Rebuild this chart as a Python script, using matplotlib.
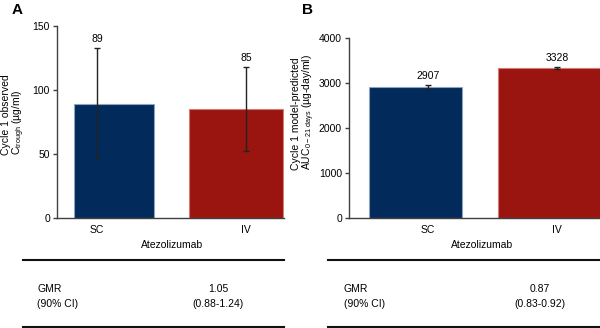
import matplotlib
matplotlib.use("Agg")
import matplotlib.pyplot as plt
from matplotlib.lines import Line2D

plt.rcParams["font.family"] = ["Liberation Sans", "DejaVu Sans"]
plt.rcParams["font.size"] = 7.5

# data
categories = ["SC", "IV"]
ctrough = [89, 85]
ctrough_low = [46, 52]
ctrough_high = [133, 118]
auc = [2907, 3328]
auc_low = [2865, 3305]
auc_high = [2952, 3352]
gmr_a = ("1.05", "(0.88-1.24)")
gmr_b = ("0.87", "(0.83-0.92)")

NAVY = "#022b5b"
RED = "#9a1510"
EDGES = ["#8ea3c2", "#d27c77"]
SPINE = "#404040"

W, H = 600, 328
fig = plt.figure(figsize=(W / 100, H / 100), dpi=100)


def px_axes(left, right, top, bottom):
    return fig.add_axes([left / W, 1 - bottom / H, (right - left) / W, (bottom - top) / H])


def style_axes(ax, ymax, yticks):
    ax.set_ylim(0, ymax)
    ax.set_yticks(yticks)
    ax.set_xticks(range(len(categories)))
    ax.set_xticklabels(categories)
    for side in ("top", "right"):
        ax.spines[side].set_visible(False)
    for side in ("left", "bottom"):
        ax.spines[side].set_color(SPINE)
        ax.spines[side].set_linewidth(1.0)
    ax.tick_params(axis="y", length=3, width=1, color=SPINE, pad=2, labelsize=7.5)
    ax.tick_params(axis="x", length=0, pad=5, labelsize=7.5)


def draw_bars(ax, values, low, high, lefts, widths, label_pad):
    for i, v in enumerate(values):
        ax.bar(lefts[i], v, width=widths[i], align="edge",
               color=[NAVY, RED][i], edgecolor=EDGES[i], linewidth=0.8, zorder=2)
        ax.errorbar(i, v, yerr=[[v - low[i]], [high[i] - v]], fmt="none",
                    ecolor="#222222", elinewidth=1.0, capsize=2.2, capthick=1.0, zorder=3)
        ax.annotate(str(v), (i, high[i]), xytext=(0, label_pad), textcoords="offset points",
                    ha="center", va="bottom", fontsize=7.5)


# panel A
ax_a = px_axes(57, 284, 26, 218)
ax_a.set_xlim(-0.268, 1.255)
style_axes(ax_a, 150, [0, 50, 100, 150])
draw_bars(ax_a, ctrough, ctrough_low, ctrough_high, [-0.154, 0.617], [0.537, 0.631], 3)
ax_a.set_ylabel("Cycle 1 observed\nC$_{\\mathregular{trough}}$ (µg/ml)", fontsize=7.5,
                multialignment="left", linespacing=1.0)
ax_a.yaxis.set_label_coords(-0.130, 0.536)

# panel B
ax_b = px_axes(349, 600, 38, 218)
ax_b.set_xlim(-0.612, 1.333)
style_axes(ax_b, 4000, [0, 1000, 2000, 3000, 4000])
draw_bars(ax_b, auc, auc_low, auc_high, [-0.457, 0.543], [0.721, 0.85], 3)
ax_b.set_ylabel("Cycle 1 model-predicted\nAUC$_{\\mathregular{0-21\\ days}}$ (µg-day/ml)",
                fontsize=7.5, multialignment="left", linespacing=1.0)
ax_b.yaxis.set_label_coords(-0.127, 0.59)

fig.text(12 / W, 1 - 10 / H, "A", fontsize=11, fontweight="bold", va="center", ha="left")
fig.text(302 / W, 1 - 10 / H, "B", fontsize=11, fontweight="bold", va="center", ha="left")


def table(x0, x1, label_x, value_x, center_x, vals):
    fig.text(center_x / W, 1 - 245 / H, "Atezolizumab", ha="center", va="center")
    for y in (260, 327):
        fig.add_artist(Line2D([x0 / W, x1 / W], [1 - y / H, 1 - y / H],
                              color="#111111", linewidth=1.5, transform=fig.transFigure))
    fig.text(label_x / W, 1 - 289 / H, "GMR", ha="left", va="center")
    fig.text(label_x / W, 1 - 304 / H, "(90% CI)", ha="left", va="center")
    fig.text(value_x / W, 1 - 289 / H, vals[0], ha="center", va="center")
    fig.text(value_x / W, 1 - 304 / H, vals[1], ha="center", va="center")


table(23, 284, 37, 218, 172, gmr_a)
table(328, 600, 344, 540, 482, gmr_b)

fig.savefig("out.png", dpi=100)
